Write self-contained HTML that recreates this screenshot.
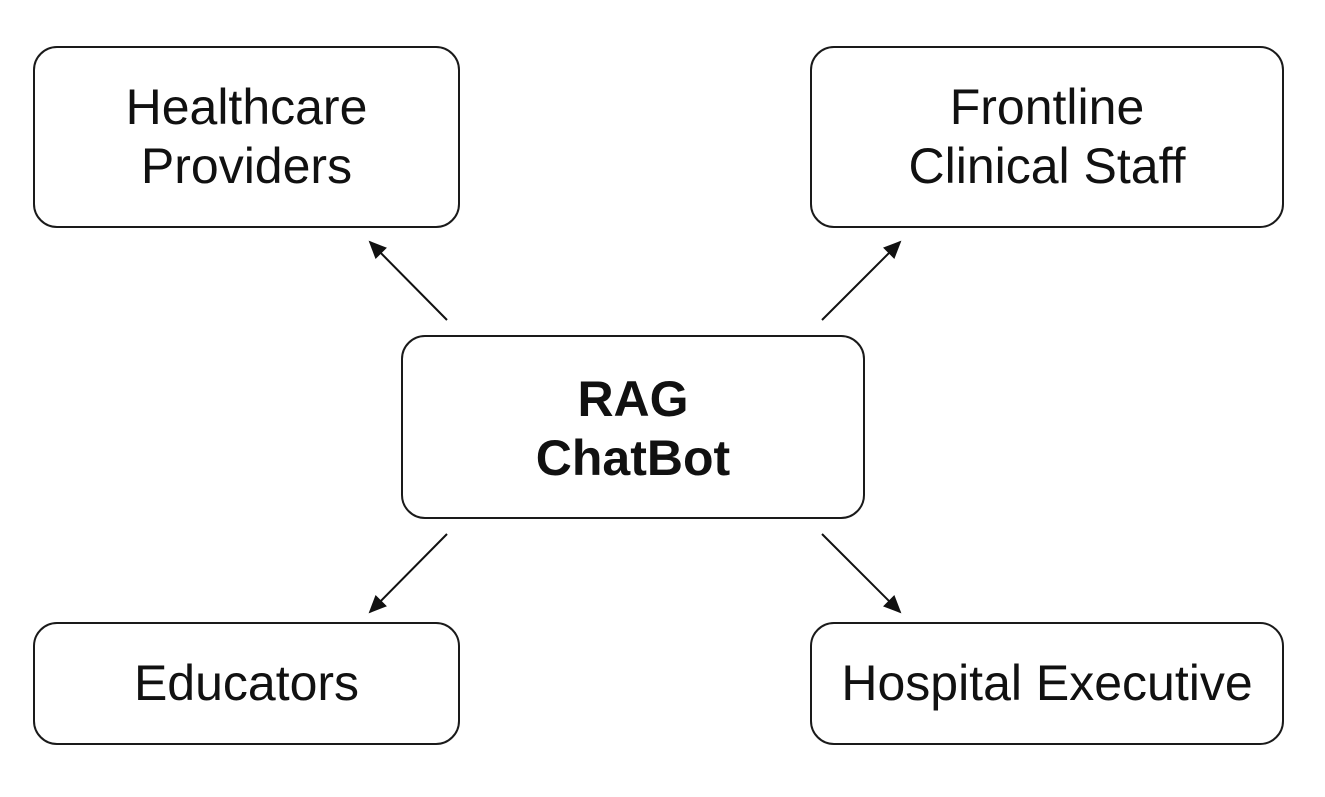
<!DOCTYPE html>
<html><head><style>
body{margin:0;background:#fff;width:1325px;height:797px;position:relative;overflow:hidden;font-family:"Liberation Sans",sans-serif;}
.b{position:absolute;box-sizing:border-box;border:2.5px solid #1a1a1a;border-radius:24px;display:flex;align-items:center;justify-content:center;text-align:center;font-size:50px;line-height:59px;color:#111;}
</style></head><body>
<div class="b" style="left:33px;top:46px;width:427px;height:182px;">Healthcare<br>Providers</div>
<div class="b" style="left:810px;top:46px;width:474px;height:182px;">Frontline<br>Clinical Staff</div>
<div class="b" style="left:401px;top:335px;width:464px;height:184px;font-weight:bold;padding-top:4px;">RAG<br>ChatBot</div>
<div class="b" style="left:33px;top:622px;width:427px;height:123px;">Educators</div>
<div class="b" style="left:810px;top:622px;width:474px;height:123px;">Hospital Executive</div>
<svg width="1325" height="797" style="position:absolute;left:0;top:0">
<defs><marker id="a" markerWidth="18" markerHeight="16" refX="16" refY="8" orient="auto" markerUnits="userSpaceOnUse" viewBox="0 0 18 16"><path d="M0,0L18,8L0,16z" fill="#111"/></marker></defs>
<g stroke="#111" stroke-width="2" fill="none">
<line x1="447" y1="320" x2="370" y2="242" marker-end="url(#a)"/>
<line x1="822" y1="320" x2="900" y2="242" marker-end="url(#a)"/>
<line x1="447" y1="534" x2="370" y2="612" marker-end="url(#a)"/>
<line x1="822" y1="534" x2="900" y2="612" marker-end="url(#a)"/>
</g></svg>
</body></html>
